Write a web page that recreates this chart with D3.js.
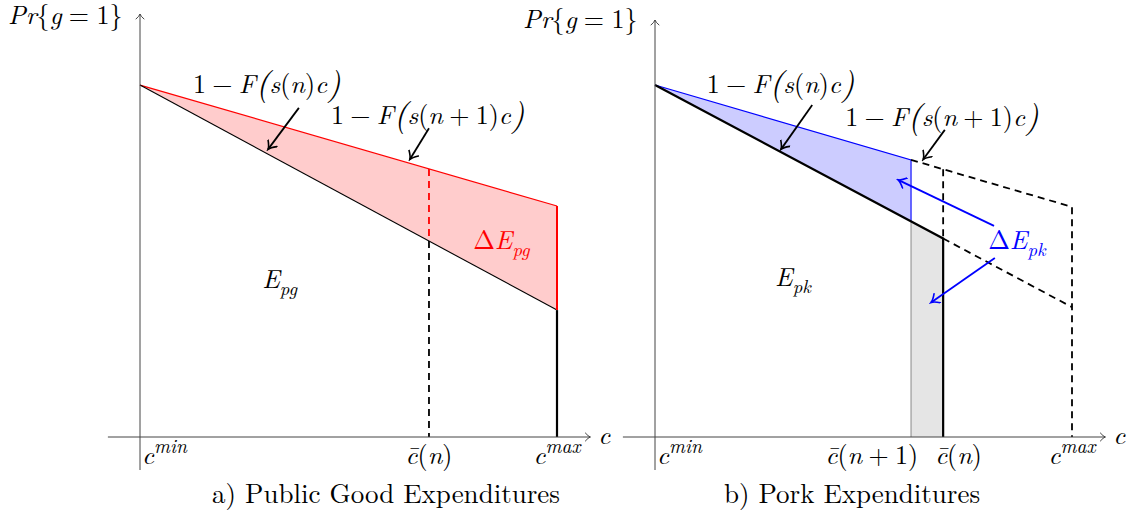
<!DOCTYPE html>
<html><head><meta charset="utf-8">
<script src="https://cdn.jsdelivr.net/npm/d3@7"></script>
<style>body{margin:0;background:#fff}svg{display:block}</style>
</head><body>
<svg id="chart" width="1126" height="516"></svg>
<script>
// ---- data (c measured from c^min = 0 to c^max = 1; Pr on 0..1) ----
const panelA_cuts = [0, 0.693, 1];          // c^min, c̄(n), c^max
const panelB_cuts = [0, 0.614, 0.691, 1];   // c^min, c̄(n+1), c̄(n), c^max
const upperA = [0.832, 0.546];              // 1-F(s(n+1)c) at c^min, c^max
const lowerA = [0.832, 0.300];              // 1-F(s(n)c)   at c^min, c^max
const upperB = [0.832, 0.544];
const lowerB = [0.832, 0.307];
const titles = ["a) Public Good Expenditures", "b) Pork Expenditures"];

const FONT = '"Latin Modern Roman", "CMU Serif", "Liberation Serif", serif';
const MS = 26;   // math label size
const svg = d3.select("#chart");
const defs = svg.append("defs");
function marker(id, color, w, h, sw) {
  defs.append("marker").attr("id", id).attr("markerUnits", "userSpaceOnUse")
    .attr("viewBox", "-10 -6 12 12").attr("refX", 0).attr("refY", 0)
    .attr("markerWidth", 12).attr("markerHeight", 12).attr("orient", "auto")
    .append("path").attr("d", `M${-w},${-h} Q${-w*0.4},${-h*0.15} 0,0 Q${-w*0.4},${h*0.15} ${-w},${h}`)
    .attr("fill", "none").attr("stroke", color).attr("stroke-width", sw).attr("stroke-linecap", "round");
}
marker("arrK", "#000", 7.5, 5.5, 1.6);
marker("arrB", "#0000ff", 7.5, 5.5, 1.6);
marker("arrAx", "#444", 5, 4, 1);

const y = d3.scaleLinear().domain([0, 1]).range([437, 14]);
const xA = d3.scaleLinear().domain([0, 1]).range([140, 557]);
const xB = d3.scaleLinear().domain([0, 1]).range([655, 1072]);

function lineAt(arr, c) { return arr[0] + (arr[1] - arr[0]) * c; }

function math(g, x, yy, parts, opts = {}) {
  const size = opts.size || MS;
  const t = g.append("text").attr("x", x).attr("y", yy)
    .attr("text-anchor", opts.anchor || "start")
    .style("font-family", FONT).attr("font-size", size)
    .attr("fill", opts.color || "#000");
  let shift = 0, pending = 0;
  parts.forEach(([s, k]) => {
    const ts = t.append("tspan").text(s);
    let want = 0, dx = pending;
    pending = 0;
    if (k.includes("i")) ts.attr("font-style", "italic");
    if (k.includes("sub")) { want = 0.26 * size; ts.attr("font-size", size * 0.72); }
    if (k.includes("sup")) { want = -0.42 * size; ts.attr("font-size", size * 0.75); }
    if (k.includes("big")) { want = 0.08 * size; ts.attr("font-size", size * 1.3); }
    if (k === "op") { dx += 0.24 * size; pending = 0.24 * size; }
    if (k === "rel") { dx += 0.28 * size; pending = 0.28 * size; }
    if (dx) ts.attr("dx", dx);
    if (want !== shift) ts.attr("dy", want - shift);
    shift = want;
  });
  return t;
}
const P = {
  Pr: [["Pr", "i"], ["{", "r"], ["g", "i"], ["=", "rel"], ["1", "r"], ["}", "r"]],
  Fn: [["1", "r"], ["\u2212", "op"], ["F", "i"], ["(", "big"], ["s", "i"], ["(", "r"], ["n", "i"], [")", "r"], ["c", "i"], [")", "big"]],
  Fn1: [["1", "r"], ["\u2212", "op"], ["F", "i"], ["(", "big"], ["s", "i"], ["(", "r"], ["n", "i"], ["+", "op"], ["1", "r"], [")", "r"], ["c", "i"], [")", "big"]],
  cmin: [["c", "i"], ["min", "isup"]],
  cmax: [["c", "i"], ["max", "isup"]],
  cbar_n: [["c\u0304", "i"], ["(", "r"], ["n", "i"], [")", "r"]],
  cbar_n1: [["c\u0304", "i"], ["(", "r"], ["n", "i"], ["+", "op"], ["1", "r"], [")", "r"]],
};

function axes(g, x, topY) {
  g.append("line").attr("x1", x(-0.077)).attr("x2", x(1.08)).attr("y1", y(0)).attr("y2", y(0))
    .attr("stroke", "#444").attr("stroke-width", 1).attr("marker-end", "url(#arrAx)");
  g.append("line").attr("x1", x(0)).attr("x2", x(0)).attr("y1", 470).attr("y2", topY)
    .attr("stroke", "#444").attr("stroke-width", 1).attr("marker-end", "url(#arrAx)");
  math(g, x(1.08) + 8, y(0) + 7, [["c", "i"]]);
}

function pathOf(x, pts) { return d3.line().x(d => x(d[0])).y(d => y(d[1]))(pts); }
function arrow(g, x, a, b, color, m) {
  g.append("line").attr("x1", x(a[0])).attr("y1", y(a[1])).attr("x2", x(b[0])).attr("y2", y(b[1]))
    .attr("stroke", color).attr("stroke-width", 1.8).attr("marker-end", `url(#${m})`);
}
function title(g, cx, s) {
  g.append("text").attr("x", cx).attr("y", 503).attr("text-anchor", "middle")
    .style("font-family", FONT).attr("font-size", 27).text(s);
}

// ---------------- Panel A ----------------
const gA = svg.append("g");
{
  const x = xA, [c0, cb, c1] = panelA_cuts;
  gA.append("path").attr("d", pathOf(x, [[c0, upperA[0]], [c1, upperA[1]], [c1, lowerA[1]], [c0, lowerA[0]]]) + "Z")
    .attr("fill", "#ffcccc").attr("stroke", "none");
  gA.append("path").attr("d", pathOf(x, [[c0, upperA[0]], [c1, upperA[1]]])).attr("stroke", "#ff0000").attr("stroke-width", 1.2).attr("fill", "none");
  gA.append("path").attr("d", pathOf(x, [[c0, lowerA[0]], [c1, lowerA[1]]])).attr("stroke", "#000").attr("stroke-width", 1.1).attr("fill", "none");
  gA.append("path").attr("d", pathOf(x, [[c1, upperA[1]], [c1, lowerA[1]]])).attr("stroke", "#ff0000").attr("stroke-width", 2);
  gA.append("path").attr("d", pathOf(x, [[c1, lowerA[1]], [c1, 0]])).attr("stroke", "#000").attr("stroke-width", 2.2);
  gA.append("path").attr("d", pathOf(x, [[cb, lineAt(upperA, cb)], [cb, lineAt(lowerA, cb)]])).attr("stroke", "#ff0000").attr("stroke-width", 1.8).attr("stroke-dasharray", "7,5");
  gA.append("path").attr("d", pathOf(x, [[cb, lineAt(lowerA, cb)], [cb, 0]])).attr("stroke", "#000").attr("stroke-width", 1.8).attr("stroke-dasharray", "7,5");
  axes(gA, x, 14);
  math(gA, 8, 24, P.Pr);
  math(gA, x(0.127), 93, P.Fn);
  math(gA, x(0.458), 124, P.Fn1);
  arrow(gA, x, [0.381, 0.778], [0.307, 0.680], "#000", "arrK");
  arrow(gA, x, [0.693, 0.730], [0.647, 0.656], "#000", "arrK");
  math(gA, x(0.799), 249, [["\u0394", "r"], ["E", "i"], ["pg", "isub"]], { color: "#ff0000" });
  math(gA, x(0.293), 288, [["E", "i"], ["pg", "isub"]]);
  math(gA, x(c0) + 2, 464, P.cmin);
  math(gA, x(cb), 464, P.cbar_n, { anchor: "middle" });
  math(gA, x(c1), 464, P.cmax, { anchor: "middle" });
  title(gA, 386, titles[0]);
}

// ---------------- Panel B ----------------
const gB = svg.append("g");
{
  const x = xB, [c0, cb1, cb, c1] = panelB_cuts;
  gB.append("path").attr("d", pathOf(x, [[cb1, 0], [cb1, lineAt(lowerB, cb1)], [cb, lineAt(lowerB, cb)], [cb, 0]]) + "Z")
    .attr("fill", "#e5e5e5").attr("stroke", "none");
  gB.append("path").attr("d", pathOf(x, [[cb1, 0], [cb1, lineAt(lowerB, cb1)]])).attr("stroke", "#999").attr("stroke-width", 1.2);
  gB.append("path").attr("d", pathOf(x, [[c0, upperB[0]], [cb1, lineAt(upperB, cb1)], [cb1, lineAt(lowerB, cb1)], [c0, lowerB[0]]]) + "Z")
    .attr("fill", "#ccccff").attr("stroke", "none");
  gB.append("path").attr("d", pathOf(x, [[c0, upperB[0]], [cb1, lineAt(upperB, cb1)], [cb1, lineAt(lowerB, cb1)]])).attr("stroke", "#0000ff").attr("stroke-width", 1.1).attr("fill", "none");
  gB.append("path").attr("d", pathOf(x, [[c0, lowerB[0]], [cb, lineAt(lowerB, cb)], [cb, 0]])).attr("stroke", "#000").attr("stroke-width", 2.2).attr("fill", "none");
  const dash = (pts) => gB.append("path").attr("d", pathOf(x, pts)).attr("stroke", "#000").attr("stroke-width", 1.8).attr("stroke-dasharray", "7,5").attr("fill", "none");
  dash([[cb1, lineAt(upperB, cb1)], [c1, upperB[1]], [c1, 0]]);
  dash([[cb, lineAt(lowerB, cb)], [c1, lowerB[1]]]);
  dash([[cb, lineAt(upperB, cb)], [cb, lineAt(lowerB, cb)]]);
  axes(gB, x, 20);
  math(gB, 523, 28, P.Pr);
  math(gB, x(0.124), 93, P.Fn);
  math(gB, x(0.456), 126, P.Fn1);
  arrow(gB, x, [0.377, 0.785], [0.302, 0.680], "#000", "arrK");
  arrow(gB, x, [0.695, 0.726], [0.643, 0.656], "#000", "arrK");
  arrow(gB, x, [0.813, 0.499], [0.583, 0.608], "#0000ff", "arrB");
  arrow(gB, x, [0.815, 0.423], [0.662, 0.318], "#0000ff", "arrB");
  math(gB, x(0.799), 249, [["\u0394", "r"], ["E", "i"], ["pk", "isub"]], { color: "#0000ff" });
  math(gB, x(0.288), 286, [["E", "i"], ["pk", "isub"]]);
  math(gB, x(c0) + 2, 464, P.cmin);
  math(gB, x(cb1) + 7, 464, P.cbar_n1, { anchor: "end" });
  math(gB, x(cb) - 8, 464, P.cbar_n, { anchor: "start" });
  math(gB, x(c1), 464, P.cmax, { anchor: "middle" });
  title(gB, 852, titles[1]);
}
</script>
</body></html>
